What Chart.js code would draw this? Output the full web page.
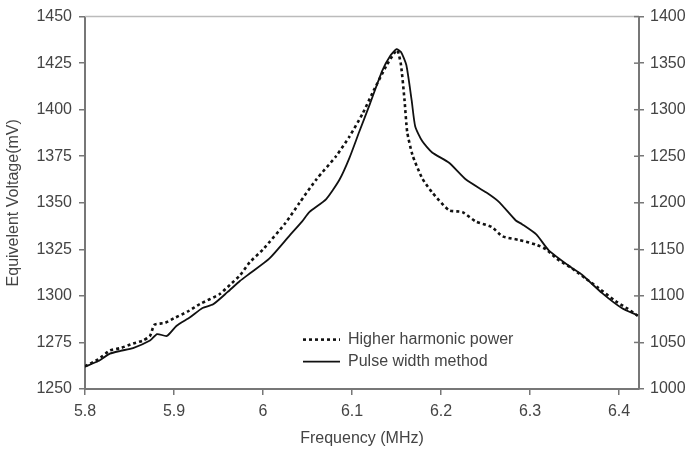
<!DOCTYPE html>
<html lang="en">
<head>
  <meta charset="UTF-8">
  <title>Equivelent Voltage vs Frequency</title>
  <script src="https://cdn.jsdelivr.net/npm/chart.js"></script>
  <style>
    body { margin: 0; background: #fff; }
  </style>
</head>
<body>
  <canvas id="myChart" width="689" height="452"></canvas>
  <script>
    // Higher harmonic power (left axis, mV)
    const freqHarmonic = [5.800, 5.815, 5.828, 5.840, 5.854, 5.865, 5.873, 5.878, 5.890, 5.900, 5.915, 5.929, 5.951, 5.963, 5.974, 5.985, 6.000, 6.025, 6.041, 6.060, 6.082, 6.097, 6.112, 6.123, 6.139, 6.147, 6.151, 6.155, 6.159, 6.162, 6.168, 6.179, 6.190, 6.209, 6.224, 6.239, 6.257, 6.269, 6.288, 6.307, 6.318, 6.330, 6.347, 6.362, 6.377, 6.396, 6.410, 6.421];
    const voltHarmonic = [1262.2, 1266, 1270.7, 1272, 1274.4, 1276, 1278.5, 1284.5, 1285.5, 1288, 1291.5, 1295.6, 1300.9, 1306, 1311, 1318, 1325, 1339, 1350, 1362.6, 1375, 1385.5, 1398, 1409, 1424, 1430, 1432, 1424, 1405, 1388, 1375.5, 1363, 1355.6, 1346, 1345, 1340, 1337, 1332, 1330, 1327.5, 1325, 1320, 1314.8, 1309.5, 1304.2, 1297.2, 1293, 1289.3];

    // Pulse width method (right axis, mV)
    const freqPulse = [5.800, 5.815, 5.828, 5.840, 5.854, 5.873, 5.881, 5.892, 5.903, 5.918, 5.932, 5.944, 5.960, 5.974, 5.985, 6.007, 6.030, 6.044, 6.052, 6.071, 6.086, 6.097, 6.108, 6.120, 6.134, 6.143, 6.150, 6.155, 6.161, 6.167, 6.171, 6.179, 6.190, 6.209, 6.228, 6.251, 6.265, 6.284, 6.291, 6.307, 6.321, 6.347, 6.358, 6.381, 6.403, 6.421];
    const voltPulse = [1024, 1030, 1038, 1041, 1044, 1052, 1059, 1057, 1068, 1077, 1087, 1091, 1104, 1116, 1124, 1140, 1165, 1180, 1190, 1204, 1225, 1248, 1276, 1306, 1342, 1358, 1365, 1362, 1348, 1310, 1282, 1266, 1254, 1243, 1225, 1211, 1201, 1181, 1177, 1166, 1149, 1130, 1123, 1103, 1087, 1079];

    const seriesNames = ['Higher harmonic power', 'Pulse width method'];
    const xRange = [5.8, 6.4224];
    const leftRange = [1250, 1450];
    const rightRange = [1000, 1400];

    const textColor = '#444';
    const axisColor = '#777';
    const font = { family: 'Arial, "Liberation Sans", sans-serif', size: 16 };

    const toPoints = (xs, ys) => xs.map((x, i) => ({ x: x, y: ys[i] }));

    // top frame line + legend drawn inside the plot
    const framePlugin = {
      id: 'frameAndLegend',
      afterDraw(chart) {
        const ctx = chart.ctx;
        const area = chart.chartArea;
        ctx.save();
        ctx.strokeStyle = '#bbb';
        ctx.lineWidth = 1.5;
        ctx.beginPath();
        ctx.moveTo(area.left, area.top);
        ctx.lineTo(area.right, area.top);
        ctx.stroke();

        // right axis ticks cross the axis line
        const y2 = chart.scales.y2;
        ctx.strokeStyle = axisColor;
        ctx.lineWidth = 1.5;
        y2.ticks.forEach(t => {
          const py = y2.getPixelForValue(t.value);
          ctx.beginPath();
          ctx.moveTo(area.right - 5, py);
          ctx.lineTo(area.right, py);
          ctx.stroke();
        });

        const lx = area.left + 218;
        const ly = area.top + 323;
        ctx.font = '16px Arial, "Liberation Sans", sans-serif';
        ctx.fillStyle = textColor;
        ctx.textBaseline = 'middle';
        chart.data.datasets.forEach((ds, i) => {
          const y = ly + i * 22;
          ctx.strokeStyle = '#111';
          ctx.lineWidth = ds.borderWidth;
          ctx.setLineDash(ds.borderDash || []);
          ctx.beginPath();
          ctx.moveTo(lx, y);
          ctx.lineTo(lx + 37, y);
          ctx.stroke();
          ctx.setLineDash([]);
          ctx.fillText(ds.label, lx + 45, y);
        });
        ctx.restore();
      }
    };

    const ctx = document.getElementById('myChart').getContext('2d');
    const myChart = new Chart(ctx, {
      type: 'line',
      data: {
        datasets: [
          {
            label: seriesNames[0],
            data: toPoints(freqHarmonic, voltHarmonic),
            yAxisID: 'y',
            borderColor: '#111',
            borderWidth: 2.6,
            borderDash: [3, 3],
            pointRadius: 0,
            tension: 0.2,
            fill: false
          },
          {
            label: seriesNames[1],
            data: toPoints(freqPulse, voltPulse),
            yAxisID: 'y2',
            borderColor: '#111',
            borderWidth: 1.8,
            pointRadius: 0,
            tension: 0.2,
            fill: false
          }
        ]
      },
      options: {
        responsive: false,
        animation: false,
        devicePixelRatio: 1,
        layout: { padding: { top: 12, left: 0, right: 0, bottom: 0 } },
        plugins: {
          legend: { display: false },
          tooltip: { enabled: false }
        },
        scales: {
          x: {
            type: 'linear',
            min: xRange[0],
            max: xRange[1],
            afterFit: s => { s.height = 63; },
            border: { color: axisColor, width: 2 },
            grid: { display: true, drawOnChartArea: false, color: axisColor, tickLength: 6, lineWidth: 1.5 },
            ticks: {
              stepSize: 0.1,
              includeBounds: false,
              color: textColor,
              font: font,
              padding: 7,
              maxRotation: 0,
              callback: v => String(Number(v.toFixed(1)))
            },
            title: { display: true, text: 'Frequency (MHz)', color: textColor, font: font, padding: 4 }
          },
          y: {
            position: 'left',
            min: leftRange[0],
            max: leftRange[1],
            afterFit: s => { s.width = 85; },
            border: { color: axisColor, width: 2 },
            grid: { display: true, drawOnChartArea: false, color: axisColor, tickLength: 6, lineWidth: 1.5 },
            ticks: { stepSize: 25, color: textColor, font: font, padding: 7, callback: v => String(v) },
            title: { display: true, text: 'Equivelent Voltage(mV)', color: textColor, font: font, padding: 4 }
          },
          y2: {
            position: 'right',
            min: rightRange[0],
            max: rightRange[1],
            afterFit: s => { s.width = 50; },
            border: { color: axisColor, width: 2 },
            grid: { display: true, drawOnChartArea: false, color: axisColor, tickLength: 5, lineWidth: 1.5 },
            ticks: { stepSize: 50, color: textColor, font: font, padding: 6, callback: v => String(v) }
          }
        }
      },
      plugins: [framePlugin]
    });
  </script>
</body>
</html>
